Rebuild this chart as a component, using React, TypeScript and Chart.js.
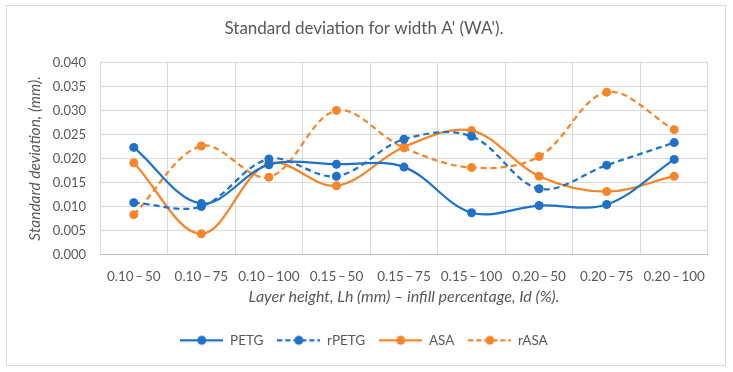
import React, { useEffect, useRef } from "react";
import { Chart, registerables } from "chart.js";

Chart.register(...registerables);

const categories = [
  "0.10\u2009–\u200950", "0.10\u2009–\u200975", "0.10\u2009–\u2009100",
  "0.15\u2009–\u200950", "0.15\u2009–\u200975", "0.15\u2009–\u2009100",
  "0.20\u2009–\u200950", "0.20\u2009–\u200975", "0.20\u2009–\u2009100",
];

const petg = [0.0223, 0.0106, 0.0187, 0.0188, 0.0182, 0.0087, 0.0102, 0.0104, 0.0198];
const rpetg = [0.0108, 0.0100, 0.0199, 0.0163, 0.0240, 0.0246, 0.0137, 0.0186, 0.0233];
const asa = [0.0191, 0.0043, 0.0190, 0.0143, 0.0224, 0.0258, 0.0163, 0.0131, 0.0163];
const rasa = [0.0083, 0.0226, 0.0161, 0.0300, 0.0222, 0.0181, 0.0204, 0.0338, 0.0260];

const BLUE = "#1f72c8";
const ORANGE = "#f7862b";
const TEXT = "#595959";
const GRID = "#d9d9d9";
const FONT = "Lato";
const DASH = [6, 4];

// legend swatch: a short line with a dot in the middle
function swatch(color: string, dashed: boolean): HTMLCanvasElement {
  const c = document.createElement("canvas");
  c.width = 43;
  c.height = 12;
  const g = c.getContext("2d")!;
  g.strokeStyle = color;
  g.lineWidth = 2.25;
  if (dashed) g.setLineDash([5, 3]);
  g.beginPath();
  g.moveTo(0, 6);
  g.lineTo(43, 6);
  g.stroke();
  g.setLineDash([]);
  g.fillStyle = color;
  g.beginPath();
  g.arc(21.5, 6, 4.5, 0, Math.PI * 2);
  g.fill();
  return c;
}

const frame = {
  id: "frame",
  afterDraw(chart: Chart) {
    const ctx = chart.ctx;
    ctx.save();
    ctx.strokeStyle = GRID;
    ctx.lineWidth = 1;
    ctx.strokeRect(6.5, 5.5, 719, 360);
    ctx.restore();
  },
};

export default function App() {
  const ref = useRef<HTMLCanvasElement>(null);

  useEffect(() => {
    const series = [
      { label: "PETG", data: petg, color: BLUE, dashed: false },
      { label: "rPETG", data: rpetg, color: BLUE, dashed: true },
      { label: "ASA", data: asa, color: ORANGE, dashed: false },
      { label: "rASA", data: rasa, color: ORANGE, dashed: true },
    ];
    const swatches = series.map((s) => swatch(s.color, s.dashed));

    const chart = new Chart(ref.current!, {
      type: "line",
      data: {
        labels: categories,
        datasets: series.map((s) => ({
          label: s.label,
          data: s.data,
          borderColor: s.color,
          backgroundColor: s.color,
          borderWidth: 2.25,
          borderDash: s.dashed ? DASH : [],
          pointRadius: 4.5,
          pointHoverRadius: 4.5,
          pointBackgroundColor: s.color,
          pointBorderColor: s.color,
          pointBorderWidth: 0,
          tension: 0.35,
          fill: false,
        })),
      },
      options: {
        responsive: false,
        animation: false,
        layout: { padding: { left: 20, right: 25, top: 0, bottom: 15 } },
        plugins: {
          title: {
            display: true,
            text: "Standard deviation for width A' (WA').",
            color: TEXT,
            font: { family: FONT, size: 17, weight: "normal" },
            padding: { top: 18, bottom: 24 },
          },
          legend: {
            position: "bottom",
            labels: {
              color: TEXT,
              font: { family: FONT, size: 13.5 },
              usePointStyle: true,
              pointStyleWidth: 43,
              padding: 14,
              generateLabels(chart: Chart) {
                const items = Chart.defaults.plugins.legend.labels.generateLabels(chart);
                items.forEach((it: any, i: number) => {
                  it.pointStyle = swatches[i];
                });
                return items;
              },
            },
          },
          tooltip: { enabled: false },
        },
        scales: {
          x: {
            offset: true,
            afterFit(scale: any) {
              scale.height = 65;
            },
            grid: { offset: true, color: GRID, drawTicks: false },
            border: { color: "#bfbfbf" },
            ticks: { color: TEXT, font: { family: FONT, size: 13.5 }, padding: 14, maxRotation: 0 },
            title: {
              display: true,
              text: "Layer height, Lh (mm) – infill percentage, Id (%).",
              color: TEXT,
              font: { family: FONT, size: 16, style: "italic" },
              padding: { top: 0, bottom: 13 },
            },
          },
          y: {
            min: 0,
            max: 0.04,
            afterFit(scale: any) {
              scale.width = 80;
            },
            grid: { color: GRID, drawTicks: false },
            border: { display: false },
            ticks: {
              stepSize: 0.005,
              color: TEXT,
              font: { family: FONT, size: 13 },
              padding: 14,
              callback: (v: any) => Number(v).toFixed(3),
            },
            title: {
              display: true,
              text: "Standard deviation, (mm).",
              color: TEXT,
              font: { family: FONT, size: 15.5, style: "italic" },
              padding: { top: 6, bottom: 0 },
            },
          },
        },
      },
      plugins: [frame],
    });
    return () => chart.destroy();
  }, []);

  return (
    <div style={{ position: "fixed", left: 0, top: 0, width: 733, height: 372, background: "#fff" }}>
      <canvas ref={ref} width={733} height={372} />
    </div>
  );
}
